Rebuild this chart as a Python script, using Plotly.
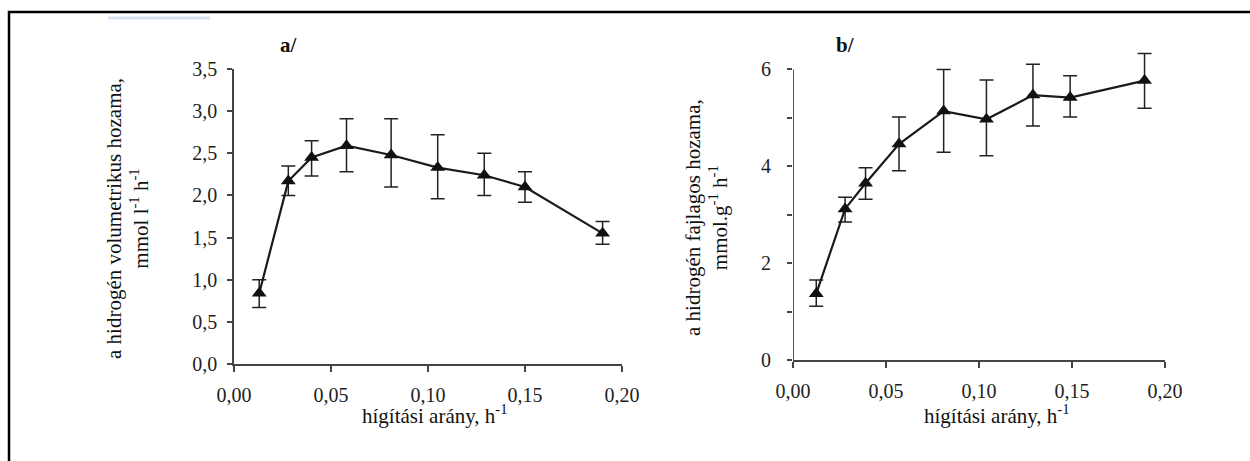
import plotly.graph_objects as go

W, H = 1250, 461

# hígítási arány (h-1) and yields
dilution_a = [0.013, 0.028, 0.040, 0.058, 0.081, 0.105, 0.129, 0.150, 0.190]
vol_yield = [0.84, 2.17, 2.45, 2.59, 2.48, 2.33, 2.24, 2.10, 1.55]
vol_err_up = [0.16, 0.18, 0.20, 0.32, 0.43, 0.39, 0.26, 0.18, 0.14]
vol_err_down = [0.17, 0.17, 0.22, 0.31, 0.38, 0.37, 0.24, 0.18, 0.13]

dilution_b = [0.0125, 0.028, 0.039, 0.057, 0.081, 0.104, 0.129, 0.149, 0.189]
spec_yield = [1.37, 3.12, 3.65, 4.46, 5.14, 4.97, 5.47, 5.42, 5.77]
spec_err_up = [0.28, 0.24, 0.32, 0.56, 0.86, 0.81, 0.64, 0.45, 0.56]
spec_err_down = [0.26, 0.27, 0.33, 0.55, 0.85, 0.75, 0.64, 0.40, 0.57]

x_ticks = [0, 0.05, 0.10, 0.15, 0.20]
x_ticktext = ["0,00", "0,05", "0,10", "0,15", "0,20"]
ya_ticks = [0, 0.5, 1.0, 1.5, 2.0, 2.5, 3.0, 3.5]
ya_ticktext = ["0,0", "0,5", "1,0", "1,5", "2,0", "2,5", "3,0", "3,5"]
yb_ticks = [0, 2, 4, 6]
yb_ticktext = ["0", "2", "4", "6"]
yb_minor = [1, 3, 5]

FONT = "Liberation Serif, Times New Roman, serif"


def px_x(p):
    return p / W


def px_y(p):
    return 1 - p / H


fig = go.Figure()

fig.add_trace(
    go.Scatter(
        x=dilution_a,
        y=vol_yield,
        mode="lines+markers",
        xaxis="x",
        yaxis="y",
        line=dict(color="#1a1a1a", width=2.2),
        marker=dict(symbol="triangle-up", size=13, color="#111"),
        error_y=dict(
            type="data",
            array=vol_err_up,
            arrayminus=vol_err_down,
            color="#222",
            thickness=1.5,
            width=7
        ),
        showlegend=False
    )
)

fig.add_trace(
    go.Scatter(
        x=dilution_b,
        y=spec_yield,
        mode="lines+markers",
        xaxis="x2",
        yaxis="y2",
        line=dict(color="#1a1a1a", width=2.2),
        marker=dict(symbol="triangle-up", size=13, color="#111"),
        error_y=dict(
            type="data",
            array=spec_err_up,
            arrayminus=spec_err_down,
            color="#222",
            thickness=1.5,
            width=7
        ),
        showlegend=False
    )
)

tick_font = dict(family=FONT, size=20, color="#222")

common_x = dict(
    range=[0, 0.2],
    tickvals=x_ticks,
    ticktext=x_ticktext,
    ticks="outside",
    ticklen=6,
    tickwidth=1.5,
    tickcolor="#444",
    showline=True,
    linecolor="#444",
    linewidth=1.5,
    showgrid=False,
    zeroline=False,
    automargin=False,
    tickfont=tick_font,
    ticklabelstandoff=6,
)

fig.update_layout(
    width=W,
    height=H,
    margin=dict(l=0, r=0, t=0, b=0, autoexpand=False),
    paper_bgcolor="white",
    plot_bgcolor="white",
    xaxis=dict(common_x, domain=[px_x(234), px_x(622)], anchor="y"),
    yaxis=dict(
        domain=[px_y(364), px_y(69)],
        anchor="x",
        range=[0, 3.5],
        tickvals=ya_ticks,
        ticktext=ya_ticktext,
        ticks="outside",
        ticklen=5,
        tickwidth=1.5,
        tickcolor="#444",
        showline=True,
        linecolor="#444",
        linewidth=1.5,
        showgrid=False,
        zeroline=False,
        automargin=False,
        tickfont=tick_font,
        ticklabelstandoff=6,
    ),
    xaxis2=dict(common_x, domain=[px_x(793), px_x(1165)], anchor="y2"),
    yaxis2=dict(
        domain=[px_y(360), px_y(40.4)],
        anchor="x2",
        range=[0, 6.6],
        tickvals=yb_ticks,
        ticktext=yb_ticktext,
        ticks="outside",
        ticklen=5,
        tickwidth=1.5,
        tickcolor="#444",
        minor=dict(tickvals=yb_minor, ticks="outside", ticklen=5,
                   tickwidth=1.5, tickcolor="#444", showgrid=False),
        showline=False,
        showgrid=False,
        zeroline=False,
        automargin=False,
        tickfont=tick_font,
        ticklabelstandoff=12,
    ),
)

# y axis line of panel b stops at 6 while the error bars go above it
fig.add_shape(type="line", xref="x2", yref="y2", x0=0, x1=0, y0=0, y1=6,
              line=dict(color="#222", width=1.5))

# outer frame (cut off at right and bottom of the picture)
fig.add_shape(type="rect", xref="paper", yref="paper",
              x0=px_x(9), x1=px_x(1262), y0=px_y(475), y1=px_y(12),
              line=dict(color="black", width=2.5))
# faint scan smudge at top left
fig.add_shape(type="line", xref="paper", yref="paper",
              x0=px_x(108), x1=px_x(210), y0=px_y(18), y1=px_y(18),
              line=dict(color="#d6e3f3", width=3))

xtitle_font = dict(family=FONT, size=21, color="#111")
ytitle_font = dict(family=FONT, size=21, color="#111")
panel_font = dict(family=FONT, size=21, color="#111")

annotations = [
    dict(text="<b>a/</b>", x=px_x(289), y=px_y(45), font=panel_font),
    dict(text="<b>b/</b>", x=px_x(845), y=px_y(45), font=panel_font),
    dict(text="hígítási arány, h<sup>-1</sup>", x=px_x(435), y=px_y(414), font=xtitle_font),
    dict(text="hígítási arány, h<sup>-1</sup>", x=px_x(997), y=px_y(414), font=xtitle_font),
    dict(text="a hidrogén volumetrikus hozama,<br>mmol l<sup>-1</sup> h<sup>-1</sup>",
         x=px_x(127), y=px_y(219), textangle=-90, font=ytitle_font),
    dict(text="a hidrogén fajlagos hozama,<br>mmol.g<sup>-1</sup> h<sup>-1</sup>",
         x=px_x(706), y=px_y(218), textangle=-90, font=ytitle_font),
]
for a in annotations:
    fig.add_annotation(xref="paper", yref="paper", showarrow=False,
                       xanchor="center", yanchor="middle", **a)

fig.write_html(
    "out.html",
    config={"displayModeBar": False},
    post_script="document.body.style.margin='0';document.body.style.overflow='hidden';"
)
